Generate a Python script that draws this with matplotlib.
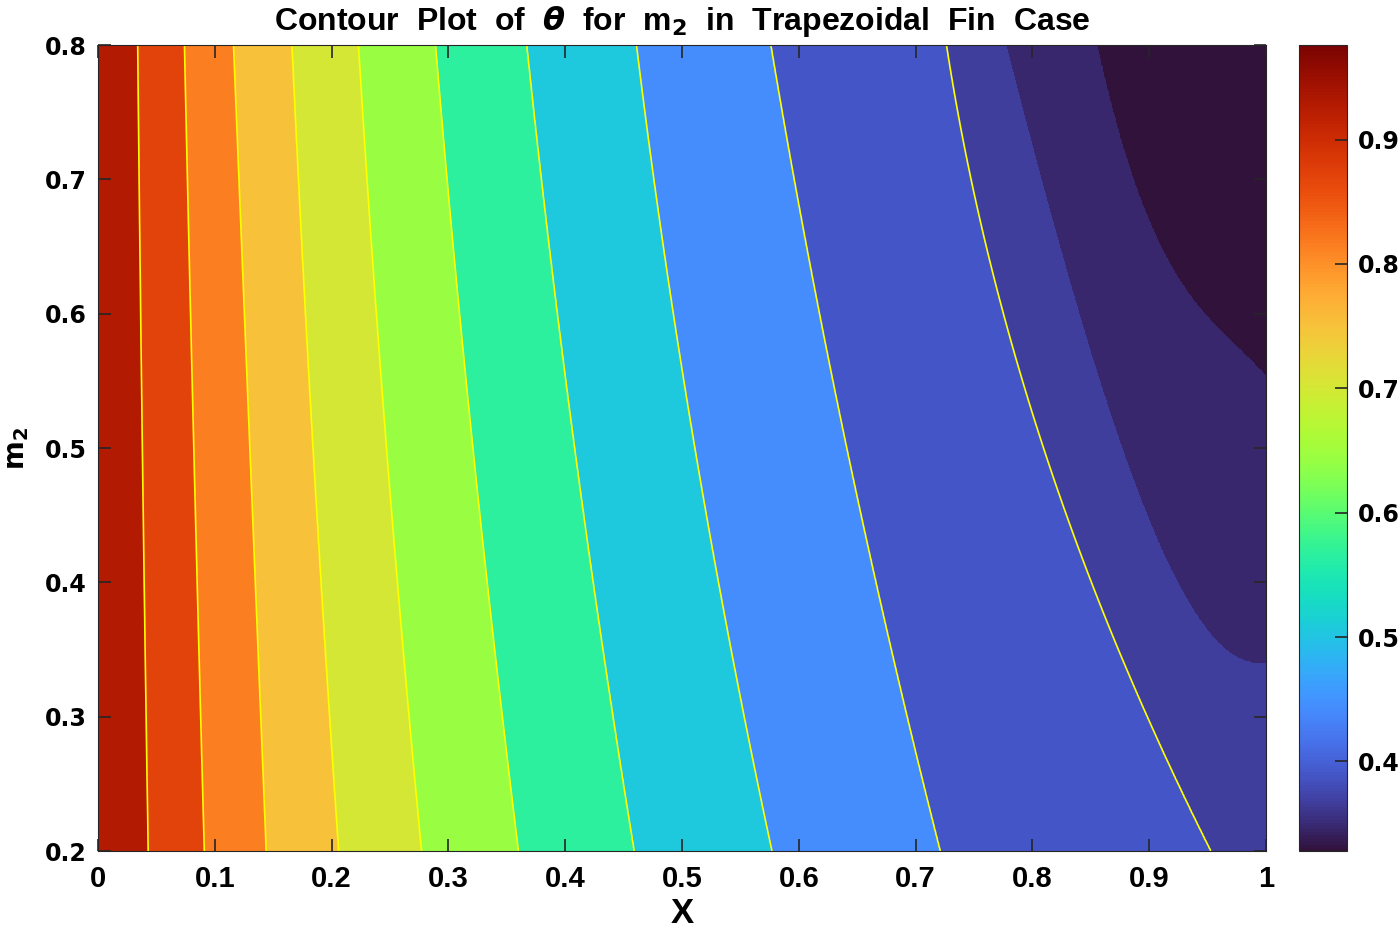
import numpy as np
import matplotlib.pyplot as plt
from matplotlib.colors import Normalize
from matplotlib.cm import ScalarMappable

plt.rcParams['font.family'] = ['DejaVu Sans']
plt.rcParams['font.weight'] = 'bold'
plt.rcParams['mathtext.fontset'] = 'custom'
plt.rcParams['mathtext.rm'] = 'DejaVu Sans:bold'
plt.rcParams['mathtext.bf'] = 'DejaVu Sans:bold'
plt.rcParams['mathtext.it'] = 'DejaVu Sans:bold:italic'

# colour limits of theta
theta_max = 0.976
theta_min = 0.328

# theta value on each band edge, from the base (X=0) towards the tip
theta_levels = [0.930, 0.872, 0.814, 0.752, 0.701, 0.642, 0.566, 0.506,
                0.443, 0.390, 0.367, 0.347]
# only the first ten edges carry a yellow line
n_lined = 10

# the nine nearly straight edges: X at m2 = 0.2, 0.5, 0.8
m2_rows = [0.2, 0.5, 0.8]
edge_x = [
    [0.043, 0.038, 0.034],
    [0.091, 0.082, 0.074],
    [0.144, 0.130, 0.116],
    [0.206, 0.184, 0.166],
    [0.277, 0.247, 0.223],
    [0.360, 0.321, 0.289],
    [0.459, 0.408, 0.367],
    [0.577, 0.511, 0.461],
    [0.721, 0.641, 0.576],
]
# tenth edge, bent near the tip
edge10_m2 = [0.2, 0.3, 0.4, 0.6, 0.8]
edge10_x = [0.956, 0.893, 0.850, 0.779, 0.725]
# the two dark edges leave through the tip (X = 1)
edge11_x = [0.777, 0.837, 0.888, 0.946, 1.0]
edge11_m2 = [0.8, 0.61, 0.469, 0.37, 0.34]
edge12_x = [0.855, 0.885, 0.941, 0.984, 1.0]
edge12_m2 = [0.8, 0.7, 0.61, 0.562, 0.556]

x_ticks = [0, 0.1, 0.2, 0.3, 0.4, 0.5, 0.6, 0.7, 0.8, 0.9, 1]
y_ticks = [0.2, 0.3, 0.4, 0.5, 0.6, 0.7, 0.8]
cb_ticks = [0.4, 0.5, 0.6, 0.7, 0.8, 0.9]


def exit_edge(xk, mk, mg):
    # x of an edge that leaves through X = 1; rows below it sit past the tip
    p = np.polyfit(xk, mk, 3)
    xd = np.linspace(xk[0], 1.0, 2000)
    md = np.minimum.accumulate(np.polyval(p, xd))
    xs = np.interp(mg, md[::-1], xd[::-1])
    below = mg < md[-1]
    xs[below] = 1.0 + (md[-1] - mg[below]) * 2.0
    return xs


xg = np.linspace(0, 1, 801)
mg = np.linspace(0.2, 0.8, 481)
curves = [np.polyval(np.polyfit(m2_rows, e, 2), mg) for e in edge_x]
curves.append(np.polyval(np.polyfit(edge10_m2, edge10_x, 2), mg))
curves.append(exit_edge(edge11_x, edge11_m2, mg))
curves.append(exit_edge(edge12_x, edge12_m2, mg))
curves = np.array(curves)

Z = np.empty((len(mg), len(xg)))
for i in range(len(mg)):
    xs = list(curves[:, i])
    Z[i] = np.interp(xg, [0.0] + xs + [2.5], [theta_max] + theta_levels + [0.30])

cmap = plt.get_cmap('turbo')
norm = Normalize(theta_min, theta_max)
fill_levels = [0.30] + theta_levels[::-1] + [1.0]
fill_colors = cmap(norm([theta_min] + theta_levels[::-1]))

fig = plt.figure(figsize=(14, 9.31), dpi=100)
ax = fig.add_axes([0.07, 0.0859, 0.8343, 0.8657])
cax = fig.add_axes([0.9279, 0.0859, 0.0343, 0.8657])

ax.contourf(xg, mg, Z, levels=fill_levels, colors=fill_colors)
ax.contour(xg, mg, Z, levels=sorted(theta_levels[:n_lined]),
           colors='#ffff00', linewidths=1.2)

narrow = ['Liberation Sans Narrow', 'Liberation Sans']
ax.set_xlim(0, 1)
ax.set_ylim(0.2, 0.8)
ax.set_xticks(x_ticks)
ax.set_xticklabels(['%g' % v for v in x_ticks], fontsize=21, family=narrow)
ax.set_yticks(y_ticks)
ax.set_yticklabels(['%g' % v for v in y_ticks], fontsize=17)
ax.tick_params(direction='in', length=9, width=1.2, color='#262626',
               top=True, right=True)
ax.tick_params(axis='x', pad=10)
ax.tick_params(axis='y', pad=8)
for s in ax.spines.values():
    s.set_color('#262626')
    s.set_linewidth(0.8)

ax.set_title(r'Contour  Plot  of  $\theta$  for  m$_{\mathbf{2}}$  in  Trapezoidal  Fin  Case',
             fontsize=23, fontweight='bold', pad=11, family=narrow)
ax.set_xlabel('X', fontsize=25, fontweight='bold', labelpad=3, family=narrow)
ax.set_ylabel(r'm$_{\mathbf{2}}$', fontsize=20, fontweight='bold', labelpad=10)

sm = ScalarMappable(norm=norm, cmap=cmap)
cb = fig.colorbar(sm, cax=cax)
cb.set_ticks(cb_ticks)
cb.set_ticklabels(['%g' % v for v in cb_ticks])
cb.ax.tick_params(direction='in', length=9, width=1.2, color='#262626',
                  labelsize=17, pad=8)
cb.outline.set_edgecolor('#262626')
cb.outline.set_linewidth(0.8)

fig.savefig('out.png', dpi=100)
